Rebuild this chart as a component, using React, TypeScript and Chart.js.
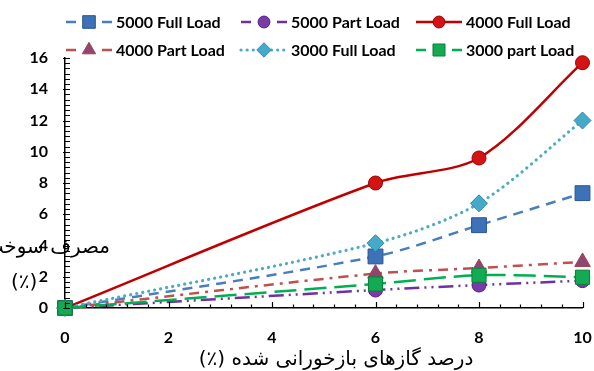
import React, { useEffect, useRef } from 'react';
import { Chart, registerables } from 'chart.js';
import { drawPoint } from 'chart.js/helpers';

Chart.register(...registerables);

// Exhaust gas recirculation rate (%) and the fuel consumption change (%) per engine speed / load
const egrRate = [0, 6, 8, 10];
const full5000 = [0, 3.3, 5.3, 7.35];
const part5000 = [0, 1.15, 1.47, 1.75];
const full4000 = [0, 8.0, 9.6, 15.7];
const part4000 = [0, 2.2, 2.56, 2.95];
const full3000 = [0, 4.15, 6.7, 12.0];
const part3000 = [0, 1.54, 2.1, 1.97];

const seriesNames = [
  '5000 Full Load',
  '5000 Part Load',
  '4000 Full Load',
  '4000 Part Load',
  '3000 Full Load',
  '3000 part Load',
];
const seriesValues = [full5000, part5000, full4000, part4000, full3000, part3000];

const xTitle = 'درصد گازهای بازخورانی شده (٪)';
const yTitleLine1 = 'مصرف سوخت';
const yTitleLine2 = '(٪)';

const X_MIN = 0;
const X_MAX = 10;
const Y_MIN = 0;
const Y_MAX = 16;
const MAJOR_STEP = 2;

type SeriesStyle = {
  color: string;
  dash: number[];
  cap: CanvasLineCap;
  lineWidth: number;
  point: string;
  radius: number;
  fill: string;
  stroke: string;
};

const seriesStyles: SeriesStyle[] = [
  { color: '#4A7EBB', dash: [10, 7], cap: 'butt', lineWidth: 2.5, point: 'rect', radius: 10.5, fill: '#3D72B8', stroke: '#2B5690' },
  { color: '#7030A0', dash: [15, 5, 2, 5, 2, 5], cap: 'butt', lineWidth: 2.5, point: 'circle', radius: 7, fill: '#7B3AAA', stroke: '#55207E' },
  { color: '#C00000', dash: [], cap: 'butt', lineWidth: 2.5, point: 'circle', radius: 7, fill: '#D41414', stroke: '#9E0000' },
  { color: '#C0504D', dash: [10, 6, 3, 6], cap: 'butt', lineWidth: 2.5, point: 'triangle', radius: 9, fill: '#8F4670', stroke: '#A0404E' },
  { color: '#4BACC6', dash: [0.1, 6], cap: 'round', lineWidth: 3.2, point: 'rectRot', radius: 8.5, fill: '#45AACA', stroke: '#2E8BAA' },
  { color: '#00B050', dash: [22, 8], cap: 'butt', lineWidth: 2.5, point: 'rect', radius: 10, fill: '#12AA52', stroke: '#0A803A' },
];

const TICK_FONT = 'Lato, "DejaVu Sans", sans-serif';
const PERSIAN_FONT = '"DejaVu Sans", sans-serif';

// Minor / major tick marks drawn inside the plot area
const axisTicksPlugin = {
  id: 'axisTicks',
  afterDraw(chart: any) {
    const { ctx, scales } = chart;
    const xs = scales.x;
    const ys = scales.y;
    const bottom = ys.getPixelForValue(Y_MIN);
    const left = xs.getPixelForValue(X_MIN);
    ctx.save();
    ctx.strokeStyle = '#000';
    ctx.lineWidth = 1.2;
    ctx.beginPath();
    const xMinor = MAJOR_STEP / 5;
    for (let i = 0; i <= Math.round((X_MAX - X_MIN) / xMinor); i++) {
      const v = X_MIN + i * xMinor;
      const px = Math.round(xs.getPixelForValue(v)) + 0.5;
      const major = i % 5 === 0;
      ctx.moveTo(px, bottom);
      ctx.lineTo(px, bottom - (major ? 6 : 3.5));
    }
    const yMinor = MAJOR_STEP / 6;
    for (let i = 0; i <= Math.round((Y_MAX - Y_MIN) / yMinor); i++) {
      const v = Y_MIN + i * yMinor;
      const py = Math.round(ys.getPixelForValue(v)) + 0.5;
      const major = i % 6 === 0;
      ctx.moveTo(left - (major ? 2 : 0), py);
      ctx.lineTo(left + 5, py);
    }
    ctx.stroke();
    ctx.restore();
  },
};

// Two-row legend across the top and the Persian axis titles
const legendAndTitlesPlugin = {
  id: 'legendAndTitles',
  afterDraw(chart: any) {
    const { ctx } = chart;
    const slots = [
      [66, 22], [241, 22], [416, 22],
      [66, 50], [241, 50], [416, 50],
    ];
    ctx.save();
    seriesNames.forEach((name, i) => {
      const st = seriesStyles[i];
      const [x, y] = slots[i];
      ctx.save();
      ctx.strokeStyle = st.color;
      ctx.lineWidth = st.lineWidth;
      ctx.lineCap = st.cap;
      ctx.beginPath();
      if (st.dash.length && st.dash[0] > 5) {
        ctx.setLineDash([]);
        ctx.moveTo(x, y);
        ctx.lineTo(x + 10, y);
        ctx.moveTo(x + 36, y);
        ctx.lineTo(x + 46, y);
      } else {
        ctx.setLineDash(st.dash);
        ctx.moveTo(x, y);
        ctx.lineTo(x + 46, y);
      }
      ctx.stroke();
      ctx.restore();
      ctx.save();
      ctx.fillStyle = st.fill;
      ctx.strokeStyle = st.stroke;
      ctx.lineWidth = 1;
      drawPoint(ctx, { pointStyle: st.point, radius: st.radius * 0.85, rotation: 0, borderWidth: 1 } as any, x + 23, y);
      ctx.restore();
      ctx.fillStyle = '#000';
      ctx.font = `bold 16px ${TICK_FONT}`;
      ctx.textAlign = 'left';
      ctx.textBaseline = 'middle';
      ctx.fillText(name, x + 50, y + 1);
    });

    // x-axis title
    ctx.fillStyle = '#000';
    ctx.font = `20px ${PERSIAN_FONT}`;
    ctx.direction = 'rtl';
    ctx.textAlign = 'center';
    ctx.textBaseline = 'middle';
    ctx.fillText(xTitle, 336, 360);

    // y-axis title (runs past the left edge of the canvas)
    ctx.textAlign = 'right';
    ctx.fillText(yTitleLine1, 110, 248);
    ctx.direction = 'ltr';
    ctx.textAlign = 'left';
    ctx.fillText(yTitleLine2, 11, 283);
    ctx.restore();
  },
};

export default function App() {
  const canvasRef = useRef<HTMLCanvasElement | null>(null);

  useEffect(() => {
    const canvas = canvasRef.current;
    if (!canvas) return;

    const datasets = seriesNames.map((name, i) => {
      const st = seriesStyles[i];
      return {
        label: name,
        data: egrRate.map((x, j) => ({ x, y: seriesValues[i][j] })),
        borderColor: st.color,
        borderWidth: st.lineWidth,
        borderDash: st.dash,
        borderCapStyle: st.cap,
        tension: 0.3,
        pointStyle: st.point,
        pointRadius: st.radius,
        pointBackgroundColor: st.fill,
        pointBorderColor: st.stroke,
        pointBorderWidth: 1,
        fill: false,
        clip: false as any,
        order: seriesNames.length - i,
      };
    });

    const chart = new Chart(canvas, {
      type: 'line',
      data: { datasets },
      options: {
        animation: false,
        responsive: false,
        maintainAspectRatio: false,
        layout: { padding: { top: 58, right: 11, left: 0, bottom: 0 } },
        plugins: {
          legend: { display: false },
          tooltip: { enabled: false },
          title: { display: false },
        },
        scales: {
          x: {
            type: 'linear',
            min: X_MIN,
            max: X_MAX,
            grid: { display: false, drawTicks: false },
            border: { display: true, color: '#000', width: 1.5 },
            ticks: {
              stepSize: MAJOR_STEP,
              color: '#000',
              padding: 20,
              font: { family: TICK_FONT, size: 16, weight: 'bold' },
              maxRotation: 0,
            },
            afterFit: (scale: any) => {
              scale.height = 63;
              scale.paddingLeft = 0;
              scale.paddingRight = 0;
            },
          },
          y: {
            type: 'linear',
            min: Y_MIN,
            max: Y_MAX,
            grid: { display: false, drawTicks: false },
            border: { display: true, color: '#000', width: 1.5 },
            ticks: {
              stepSize: MAJOR_STEP,
              color: '#000',
              padding: 17,
              font: { family: TICK_FONT, size: 16, weight: 'bold' },
            },
            afterFit: (scale: any) => {
              scale.width = 65;
              scale.paddingTop = 0;
              scale.paddingBottom = 0;
            },
          },
        },
      },
      plugins: [axisTicksPlugin, legendAndTitlesPlugin],
    });

    return () => chart.destroy();
  }, []);

  return (
    <div style={{ position: 'fixed', left: 0, top: 0, width: 594, height: 371, background: '#fff' }}>
      <canvas ref={canvasRef} width={594} height={371} style={{ display: 'block', width: 594, height: 371 }} />
    </div>
  );
}
